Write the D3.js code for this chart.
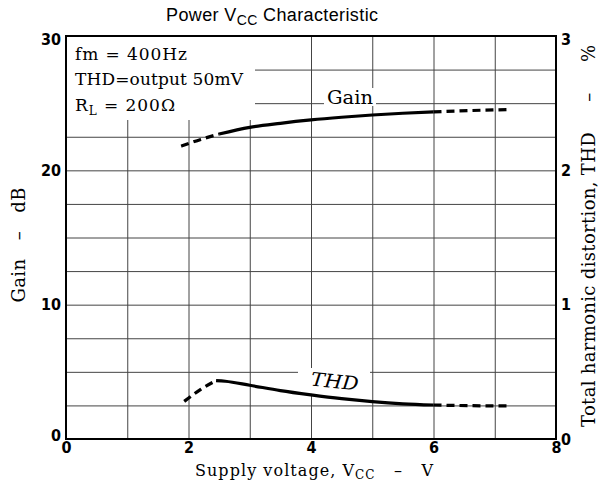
<!DOCTYPE html>
<html>
<head>
<meta charset="utf-8">
<script src="https://cdn.jsdelivr.net/npm/d3@7"></script>
<style>
    body { margin: 0; background: white; }
    .tickLabel { font-family: "DejaVu Sans Condensed", "Liberation Sans Narrow", "DejaVu Sans", sans-serif; font-weight: bold; font-size: 16px; }
    .serif { font-family: "DejaVu Serif", "Liberation Serif", serif; }
</style>
</head>
<body>
<svg id="mainSvg" width="602" height="488"></svg>
<script>
window.addEventListener("load", drawChart);

// x axis: supply voltage (V)
var xTicks = [0, 2, 4, 6, 8];
var gainTicks = [0, 10, 20, 30];
var thdTicks = [0, 1, 2, 3];

// Gain curve (dB), dashed - solid - dashed
var gainDashLowV = [1.88, 2.2, 2.5];
var gainDashLow = [21.8, 22.3, 22.7];
var gainSolidV = [2.5, 3, 3.5, 4, 4.5, 5, 5.5, 6];
var gainSolid = [22.7, 23.2, 23.5, 23.75, 23.95, 24.12, 24.25, 24.35];
var gainDashHighV = [6, 6.6, 7.2];
var gainDashHigh = [24.35, 24.45, 24.52];

// THD curve (%), dashed - solid - dashed
var thdDashLowV = [1.93, 2.2, 2.45];
var thdDashLow = [0.28, 0.37, 0.435];
var thdSolidV = [2.45, 2.6, 3, 3.5, 4, 4.5, 5, 5.5, 6];
var thdSolid = [0.435, 0.43, 0.40, 0.36, 0.328, 0.30, 0.278, 0.262, 0.253];
var thdDashHighV = [6, 6.6, 7.2];
var thdDashHigh = [0.253, 0.248, 0.246];

var gridColor = "#444";        // grid line colour
var curveColor = "black";      // curve colour

function drawChart()
{
    const svg = d3.select("#mainSvg");
    const width = +svg.attr("width");
    const height = +svg.attr("height");
    const margin = {top: 36, bottom: 49, left: 66, right: 46};
    const innerWidth = width - margin.left - margin.right;
    const innerHeight = height - margin.top - margin.bottom;

    const xScale = d3.scaleLinear().domain([0, 8]).range([0, innerWidth]);
    const yGain = d3.scaleLinear().domain([0, 30]).range([innerHeight, 0]);
    const yThd = d3.scaleLinear().domain([0, 3]).range([innerHeight, 0]);

    // title
    const title = svg.append("text")
        .attr("x", 272).attr("y", 21)
        .attr("text-anchor", "middle")
        .attr("font-family", "Liberation Sans, Arial, sans-serif")
        .attr("font-size", "18px")
        .attr("textLength", 212);
    title.append("tspan").text("Power V");
    title.append("tspan").text("CC").attr("font-size", "14px").attr("dy", 4);
    title.append("tspan").text(" Characteristic").attr("dy", -4);

    const g = svg.append("g")
        .attr("transform", `translate(${margin.left}, ${margin.top})`);

    // grid
    const vGrid = g.append("g")
        .attr("transform", `translate(0, ${innerHeight})`)
        .call(d3.axisBottom(xScale).tickValues(d3.range(1, 8)).tickSize(-innerHeight).tickFormat(""));
    const hGrid = g.append("g")
        .call(d3.axisLeft(yGain).tickValues(d3.range(2.5, 30, 2.5)).tickSize(-innerWidth).tickFormat(""));
    [vGrid, hGrid].forEach(a => {
        a.select(".domain").remove();
        a.selectAll("line").attr("stroke", gridColor).attr("stroke-width", 1);
    });

    // legend text, white box masks the grid
    g.append("rect")
        .attr("x", 1).attr("y", 1).attr("width", 188).attr("height", 83)
        .attr("fill", "white");
    const legend = g.append("g").attr("class", "serif").attr("font-size", "17px");
    legend.append("text").attr("x", 9).attr("y", 24).attr("textLength", 112).text("fm = 400Hz");
    legend.append("text").attr("x", 9).attr("y", 49).attr("textLength", 168).text("THD=output 50mV");
    const rl = legend.append("text").attr("x", 9).attr("y", 75).attr("textLength", 100);
    rl.append("tspan").text("R");
    rl.append("tspan").text("L").attr("font-size", "12px").attr("dy", 4);
    rl.append("tspan").text(" = 200Ω").attr("dy", -4);

    // curve labels
    g.append("rect").attr("x", 258).attr("y", 52).attr("width", 52).attr("height", 18).attr("fill", "white");
    g.append("text").attr("class", "serif").attr("font-size", "18px")
        .attr("x", 284).attr("y", 68).attr("text-anchor", "middle")
        .attr("textLength", 46).attr("lengthAdjust", "spacingAndGlyphs").text("Gain");
    g.append("rect").attr("x", 232).attr("y", 332).attr("width", 72).attr("height", 27).attr("fill", "white");
    g.append("text").attr("class", "serif").attr("font-size", "19px").attr("font-style", "italic")
        .attr("text-anchor", "middle")
        .attr("transform", "translate(268, 352) rotate(6)")
        .attr("textLength", 48).attr("lengthAdjust", "spacingAndGlyphs")
        .text("THD");

    // curves
    const gainLine = d3.line().x(d => xScale(d[0])).y(d => yGain(d[1])).curve(d3.curveMonotoneX);
    const thdLine = d3.line().x(d => xScale(d[0])).y(d => yThd(d[1])).curve(d3.curveMonotoneX);
    const pieces = [
        [gainLine, gainDashLowV, gainDashLow, true],
        [gainLine, gainSolidV, gainSolid, false],
        [gainLine, gainDashHighV, gainDashHigh, true],
        [thdLine, thdDashLowV, thdDashLow, true],
        [thdLine, thdSolidV, thdSolid, false],
        [thdLine, thdDashHighV, thdDashHigh, true]
    ];
    pieces.forEach(p => {
        g.append("path")
            .datum(p[1].map((v, i) => [v, p[2][i]]))
            .attr("d", p[0])
            .attr("fill", "none")
            .attr("stroke", curveColor)
            .attr("stroke-width", 3.2)
            .attr("stroke-dasharray", p[3] ? "8,5" : null);
    });

    // frame
    g.append("rect")
        .attr("width", innerWidth).attr("height", innerHeight)
        .attr("fill", "none").attr("stroke", "black").attr("stroke-width", 2);

    // axes with labels
    const xAxis = g.append("g")
        .attr("transform", `translate(0, ${innerHeight})`)
        .call(d3.axisBottom(xScale).tickValues(xTicks).tickSize(0).tickPadding(3));
    const yAxisL = g.append("g")
        .call(d3.axisLeft(yGain).tickValues(gainTicks).tickSize(0).tickPadding(5));
    const yAxisR = g.append("g")
        .attr("transform", `translate(${innerWidth}, 0)`)
        .call(d3.axisRight(yThd).tickValues(thdTicks).tickSize(0).tickPadding(5).tickFormat(d3.format("d")));
    [xAxis, yAxisL, yAxisR].forEach(a => {
        a.select(".domain").remove();
        a.selectAll("text").attr("class", "tickLabel").attr("font-family", null).attr("font-size", null).attr("fill", "black");
    });
    yAxisL.selectAll("text").filter(d => d === 30).attr("dy", "0.55em");
    yAxisR.selectAll("text").filter(d => d === 3).attr("dy", "0.55em");
    yAxisL.selectAll("text").filter(d => d === 0).attr("dy", "0.1em");

    // axis titles
    const xTitle = svg.append("text").attr("class", "serif").attr("font-size", "16px")
        .attr("x", 314).attr("y", 476).attr("text-anchor", "middle")
        .attr("textLength", 238).attr("xml:space", "preserve");
    xTitle.append("tspan").text("Supply voltage, V");
    xTitle.append("tspan").text("CC").attr("font-size", "12px").attr("dy", 3);
    xTitle.append("tspan").text("   –   V").attr("dy", -3);

    svg.append("text").attr("class", "serif").attr("font-size", "18px")
        .attr("text-anchor", "middle")
        .attr("transform", "translate(25, 245) rotate(-90)")
        .attr("textLength", 115)
        .attr("xml:space", "preserve")
        .text("Gain   –   dB");
    svg.append("text").attr("class", "serif").attr("font-size", "18px")
        .attr("text-anchor", "middle")
        .attr("transform", "translate(595, 236) rotate(-90)")
        .attr("textLength", 382)
        .attr("xml:space", "preserve")
        .text("Total harmonic distortion, THD     –     %");
}
</script>
</body>
</html>
